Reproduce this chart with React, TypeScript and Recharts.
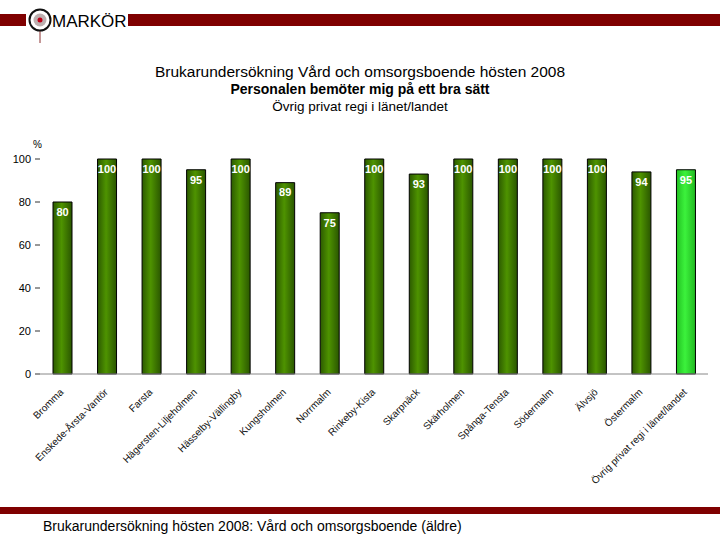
import React from "react";
import { BarChart, Bar, XAxis, YAxis, LabelList, Cell } from "recharts";

const categories = [
  "Bromma",
  "Enskede-Årsta-Vantör",
  "Farsta",
  "Hägersten-Liljeholmen",
  "Hässelby-Vällingby",
  "Kungsholmen",
  "Norrmalm",
  "Rinkeby-Kista",
  "Skarpnäck",
  "Skärholmen",
  "Spånga-Tensta",
  "Södermalm",
  "Älvsjö",
  "Östermalm",
  "Övrig privat regi i länet/landet",
];

const values = [80, 100, 100, 95, 100, 89, 75, 100, 93, 100, 100, 100, 100, 94, 95];

const yTicks = [0, 20, 40, 60, 80, 100];

const highlighted = "Övrig privat regi i länet/landet";

const data = categories.map((name, i) => ({ name, value: values[i] }));

const FONT = "'Liberation Sans', Arial, sans-serif";

const XTick = (props: any) => {
  const { x, y, payload } = props;
  return (
    <g transform={`translate(${x - 1},${y + 8})`}>
      <text
        transform="rotate(-45)"
        textAnchor="end"
        fontSize={10}
        fontFamily={FONT}
        fill="#111"
        dy={4}
      >
        {payload.value}
      </text>
    </g>
  );
};

const Header = () => (
  <svg width={720} height={50} style={{ position: "absolute", left: 0, top: 0 }}>
    <rect x={0} y={14} width={26} height={12} fill="#7f0000" />
    <rect x={128} y={14} width={592} height={12} fill="#7f0000" />
    <line x1={40} y1={20} x2={40} y2={43} stroke="#8a3030" strokeWidth={1} />
    <circle cx={40} cy={20} r={10.5} fill="#fff" stroke="#111" strokeWidth={2} />
    <circle cx={40} cy={20} r={6.5} fill="#bdb0b0" />
    <circle cx={40} cy={20} r={2.5} fill="#c00018" />
    <text x={52} y={26.5} fontSize={17} fontFamily={FONT} fill="#000">
      MARKÖR
    </text>
  </svg>
);

export default function App() {
  return (
    <div
      style={{
        position: "absolute",
        left: 0,
        top: 0,
        width: 720,
        height: 540,
        background: "#fff",
        fontFamily: FONT,
        overflow: "hidden",
      }}
    >
      <Header />
      <div style={{ position: "absolute", left: 0, top: 63, width: 720, textAlign: "center", color: "#000" }}>
        <div style={{ fontSize: 15.5, lineHeight: "18px" }}>
          Brukarundersökning Vård och omsorgsboende hösten 2008
        </div>
        <div style={{ fontSize: 14, fontWeight: "bold", lineHeight: "17px" }}>
          Personalen bemöter mig på ett bra sätt
        </div>
        <div style={{ fontSize: 13.5, lineHeight: "17px" }}>Övrig privat regi i länet/landet</div>
      </div>
      <div style={{ position: "absolute", left: 33, top: 139, fontSize: 10 }}>%</div>

      <div style={{ position: "absolute", left: 0, top: 0 }}>
        <BarChart
          width={720}
          height={540}
          data={data}
          margin={{ top: 159, right: 12, left: 1, bottom: 46 }}
          barSize={19}
        >
          <defs>
            <linearGradient id="gDark" x1="0" y1="0" x2="1" y2="0">
              <stop offset="0%" stopColor="#2c5a00" />
              <stop offset="45%" stopColor="#4e9300" />
              <stop offset="100%" stopColor="#2a5600" />
            </linearGradient>
            <linearGradient id="gLight" x1="0" y1="0" x2="1" y2="0">
              <stop offset="0%" stopColor="#22c022" />
              <stop offset="45%" stopColor="#3cf23c" />
              <stop offset="100%" stopColor="#20b820" />
            </linearGradient>
          </defs>
          <XAxis
            dataKey="name"
            interval={0}
            tickLine={false}
            axisLine={{ stroke: "#888", strokeWidth: 1 }}
            tick={<XTick />}
            height={120}
          />
          <YAxis
            domain={[0, 100]}
            ticks={yTicks}
            width={39}
            axisLine={false}
            tickLine={{ stroke: "#333" }}
            tickSize={5}
            tickMargin={4}
            tick={{ fontSize: 11, fill: "#000", fontFamily: FONT }}
          />
          <Bar dataKey="value" stroke="#000" strokeWidth={1} isAnimationActive={false}>
            {data.map((d) => (
              <Cell key={d.name} fill={d.name === highlighted ? "url(#gLight)" : "url(#gDark)"} />
            ))}
            <LabelList
              dataKey="value"
              position="insideTop"
              offset={6}
              fill="#fff"
              fontSize={11}
              fontWeight="bold"
              fontFamily={FONT}
            />
          </Bar>
        </BarChart>
      </div>

      <div
        style={{
          position: "absolute",
          left: 0,
          top: 507,
          width: 720,
          height: 7,
          background: "#7f0000",
        }}
      />
      <div style={{ position: "absolute", left: 43, top: 518, fontSize: 14, color: "#000" }}>
        Brukarundersökning hösten 2008: Vård och omsorgsboende (äldre)
      </div>
    </div>
  );
}
